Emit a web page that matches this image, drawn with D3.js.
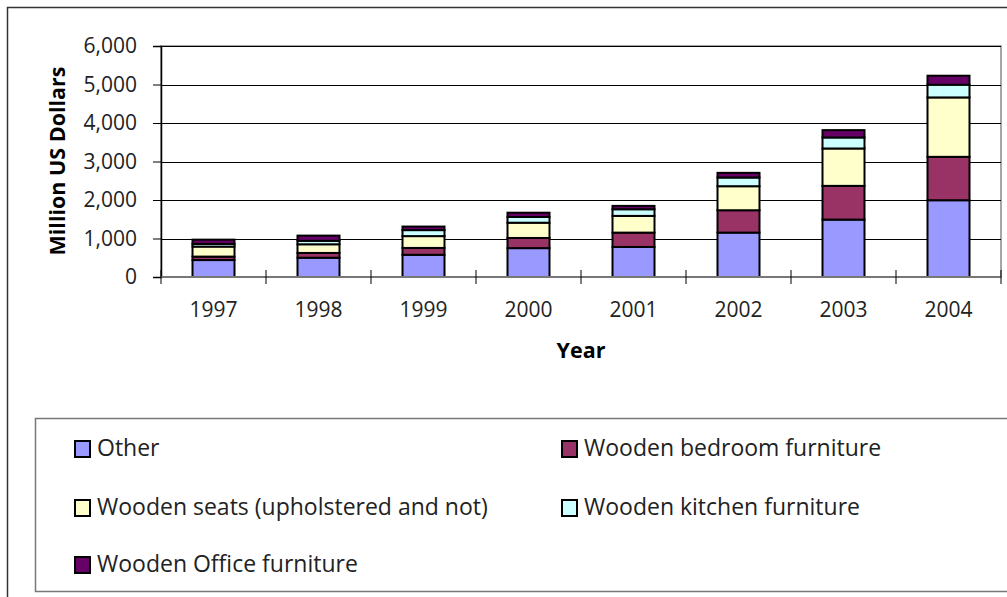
<!DOCTYPE html>
<html><head><meta charset="utf-8">
<script src="https://cdn.jsdelivr.net/npm/d3@7"></script>
<style>
html,body{margin:0;padding:0;background:#fff;}
svg{display:block;font-family:"Open Sans",sans-serif;}
</style></head>
<body><svg id="c" width="1007" height="597"></svg>
<script>
const years = ["1997","1998","1999","2000","2001","2002","2003","2004"];
const seriesNames = ["Other","Wooden bedroom furniture","Wooden seats (upholstered and not)","Wooden kitchen furniture","Wooden Office furniture"];
const other   = [440, 500, 577, 750, 780, 1153, 1491, 1994];
const bedroom = [90, 125, 178, 264, 373, 581, 876, 1127];
const seats   = [260, 225, 307, 396, 434, 624, 971, 1543];
const kitchen = [70, 90, 156, 150, 173, 226, 286, 330];
const office  = [110, 135, 92, 110, 87, 121, 191, 234];
const yTicks = [0,1000,2000,3000,4000,5000,6000];
const colors = ["#9999FF","#993366","#FFFFCC","#CCFFFF","#660066"];

const seriesVals = [other, bedroom, seats, kitchen, office];
const rows = years.map((y,i)=>{const r={year:y}; seriesNames.forEach((n,k)=>r[n]=seriesVals[k][i]); return r;});
const stacked = d3.stack().keys(seriesNames)(rows);

const svg = d3.select("#c");
const L=161, R=1001, T=46, B=277;
const x = d3.scaleBand().domain(years).range([L,R]).paddingInner(0.6).paddingOuter(0.3);
const y = d3.scaleLinear().domain([0,6000]).range([B,T]);

// outer chart border
svg.append("rect").attr("x",7.5).attr("y",7.5).attr("width",1010).attr("height",600)
  .attr("fill","none").attr("stroke","#333").attr("stroke-width",1.5);

// plot area
svg.append("rect").attr("x",L).attr("y",T).attr("width",R-L).attr("height",B-T)
  .attr("fill","#fff").attr("stroke","#888").attr("stroke-width",1.5);

// gridlines
svg.append("g").selectAll("line").data(yTicks.slice(1)).join("line")
  .attr("x1",L).attr("x2",R).attr("y1",d=>Math.round(y(d))+0.5).attr("y2",d=>Math.round(y(d))+0.5)
  .attr("stroke","#000").attr("stroke-width",1);

// bars
const g = svg.append("g");
stacked.forEach((s,k)=>{
  g.append("g").selectAll("rect").data(s).join("rect")
   .attr("x",d=>x(d.data.year)).attr("width",x.bandwidth())
   .attr("y",d=>y(d[1])).attr("height",d=>y(d[0])-y(d[1]))
   .attr("fill",colors[k]).attr("stroke","#000").attr("stroke-width",2);
});

// y axis
const ya = svg.append("g").attr("transform",`translate(${L},0)`)
  .call(d3.axisLeft(y).tickValues(yTicks).tickFormat(d3.format(",")).tickSize(8).tickPadding(16));
ya.select(".domain").attr("stroke","#000").attr("stroke-width",1.5);
ya.selectAll(".tick line").attr("stroke","#000");
ya.selectAll("text").attr("font-size",21).attr("fill","#222").attr("font-family","Open Sans");

// x axis
const boundaries = d3.range(years.length+1).map(i=>L+i*x.step());
svg.append("line").attr("x1",L).attr("x2",R).attr("y1",B).attr("y2",B).attr("stroke","#777").attr("stroke-width",2);
svg.append("g").selectAll("line").data(boundaries).join("line")
  .attr("x1",d=>d).attr("x2",d=>d).attr("y1",B-7).attr("y2",B+7).attr("stroke","#000").attr("stroke-width",1);
svg.append("g").selectAll("text").data(years).join("text")
  .attr("x",d=>x(d)+x.bandwidth()/2).attr("y",310).attr("dy","0.35em").attr("text-anchor","middle")
  .attr("font-size",21).attr("fill","#222").text(d=>d);

// axis titles
svg.append("text").attr("transform","translate(57,161) rotate(-90)").attr("text-anchor","middle").attr("dy","0.35em")
  .attr("font-size",21.5).attr("font-weight","bold").text("Million US Dollars");
svg.append("text").attr("x",581).attr("y",350).attr("text-anchor","middle").attr("dy","0.35em")
  .attr("font-size",21.5).attr("font-weight","bold").text("Year");

// legend
svg.append("rect").attr("x",35.5).attr("y",418.5).attr("width",1000).attr("height",173)
  .attr("fill","#fff").attr("stroke","#777").attr("stroke-width",1.5);
const legPos = [[75,448],[562,448],[75,507],[562,507],[75,564]];
seriesNames.forEach((n,k)=>{
  const [lx,ly]=legPos[k];
  svg.append("rect").attr("x",lx).attr("y",ly-7).attr("width",15).attr("height",16)
    .attr("fill",colors[k]).attr("stroke","#000").attr("stroke-width",2);
  svg.append("text").attr("x",lx+22).attr("y",ly).attr("dy","0.35em").attr("font-size",23).attr("fill","#222").text(n);
});
</script></body></html>
